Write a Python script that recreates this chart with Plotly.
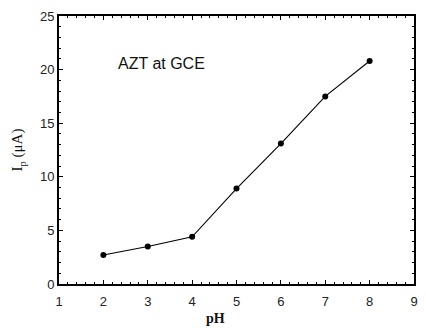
import plotly.graph_objects as go

# Peak current of AZT at a glassy carbon electrode versus pH
ph = [2, 3, 4, 5, 6, 7, 8]
ip_uA = [2.7, 3.5, 4.4, 8.9, 13.1, 17.5, 20.8]

x_ticks = [1, 2, 3, 4, 5, 6, 7, 8, 9]
y_ticks = [0, 5, 10, 15, 20, 25]

fig = go.Figure()
fig.add_trace(go.Scatter(
    x=ph, y=ip_uA, mode="lines+markers",
    line=dict(color="black", width=1.1),
    marker=dict(color="black", size=6, symbol="circle"),
    showlegend=False,
))

axis_font = dict(family="Liberation Sans, Arial", size=13, color="#222")

fig.update_xaxes(
    range=[1, 9], tickvals=x_ticks, ticks="inside", ticklen=4, tickwidth=1.2,
    tickcolor="black", showline=True, linecolor="black", linewidth=2,
    mirror="ticks", showgrid=False, zeroline=False, tickfont=axis_font,
    ticklabelstandoff=4,
    minor=dict(dtick=0.2, ticks="inside", ticklen=2, tickwidth=1,
               tickcolor="black", showgrid=False),
)
fig.update_yaxes(
    range=[0, 25], tickvals=y_ticks, ticks="inside", ticklen=4, tickwidth=1.2,
    tickcolor="black", showline=True, linecolor="black", linewidth=2,
    mirror="ticks", showgrid=False, zeroline=False, tickfont=axis_font,
    minor=dict(dtick=1, ticks="inside", ticklen=2, tickwidth=1,
               tickcolor="black", showgrid=False),
)

W, H = 426, 328
pl, pr, pt, pb = 59, 8, 16, 44

fig.update_layout(
    width=W, height=H,
    margin=dict(l=pl, r=pr, t=pt, b=pb),
    paper_bgcolor="white", plot_bgcolor="white",
)

# Convert pixel placements of labels into paper coordinates
pw, ph_px = W - pl - pr, H - pt - pb

def px_to_paper(px, py):
    return (px - pl) / pw, 1 - (py - pt) / ph_px

ax, ay = px_to_paper(163, 63)
fig.add_annotation(
    text="AZT at GCE", x=ax, y=ay, xref="paper", yref="paper",
    showarrow=False, xanchor="center", yanchor="middle",
    font=dict(family="Liberation Sans, Arial", size=16, color="#111"),
)
tx, ty = px_to_paper(217, 318)
fig.add_annotation(
    text="<b>pH</b>", x=tx, y=ty, xref="paper", yref="paper",
    showarrow=False, xanchor="center", yanchor="middle",
    font=dict(family="Liberation Serif, Times New Roman", size=14, color="#111"),
)
yx, yy = px_to_paper(18, 150)
fig.add_annotation(
    text="I<sub>p</sub> (μA)", x=yx, y=yy, xref="paper", yref="paper",
    showarrow=False, textangle=-90, xanchor="center", yanchor="middle",
    font=dict(family="Liberation Serif, Times New Roman", size=15, color="#111"),
)

fig.write_html("out.html")
